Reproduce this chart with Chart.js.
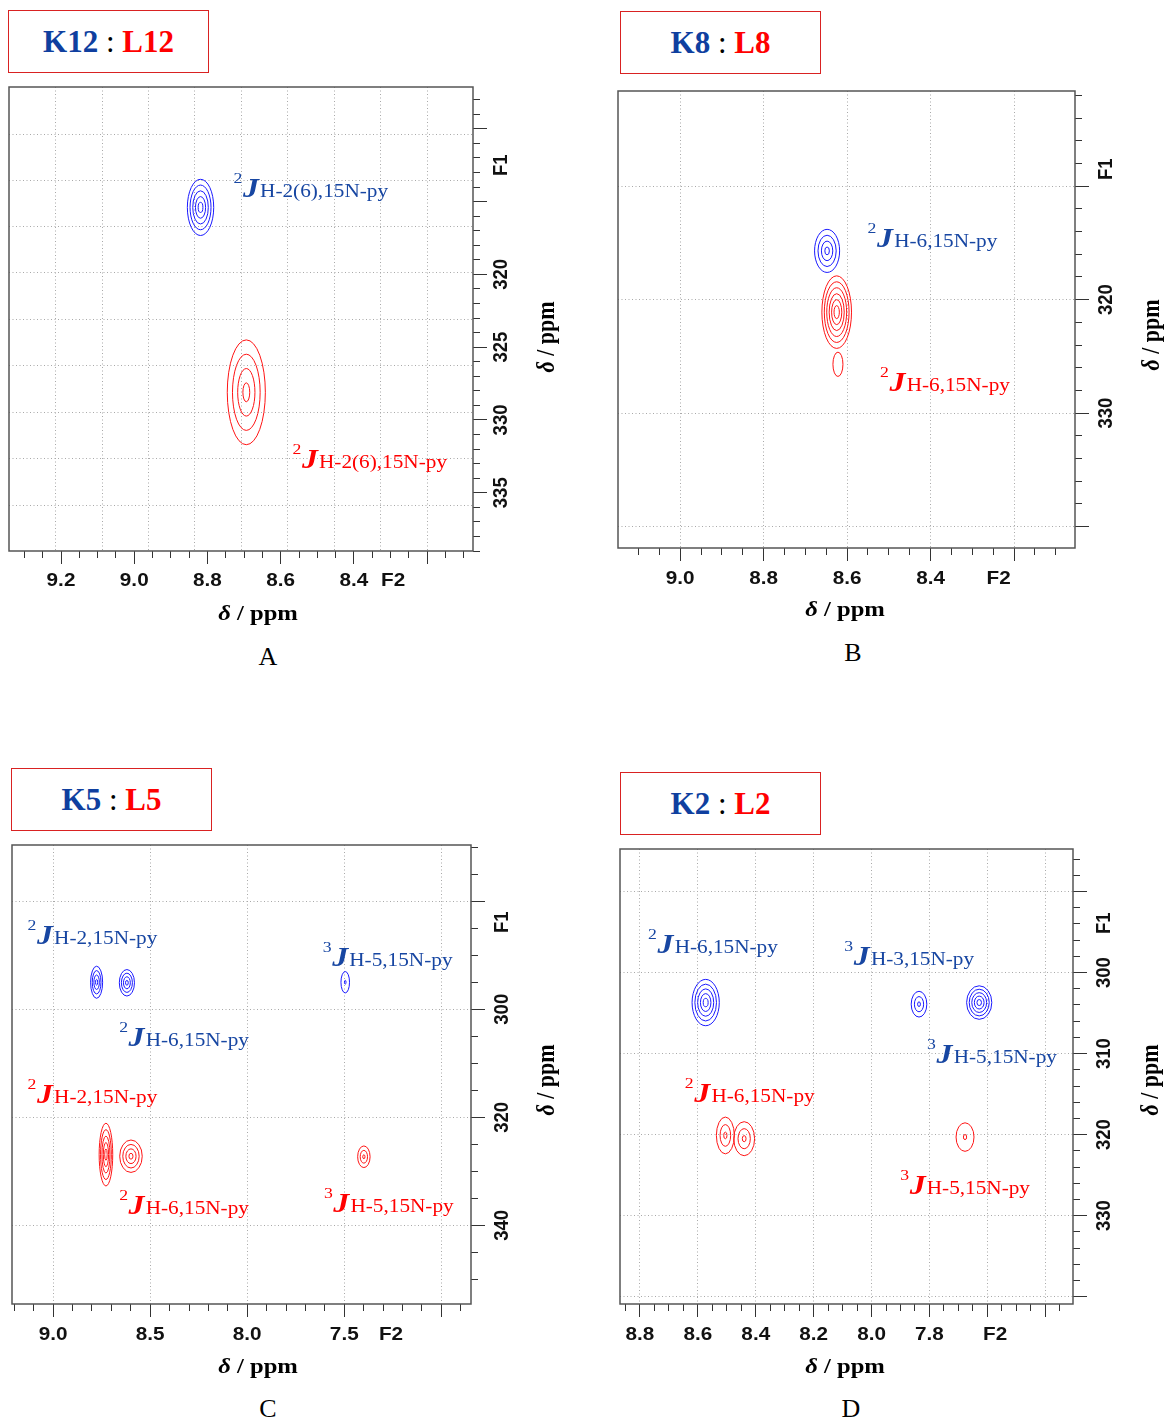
<!DOCTYPE html>
<html>
<head>
<meta charset="utf-8">
<title>1H-15N HMBC: K / L complexes</title>
<script src="https://cdn.jsdelivr.net/npm/chart.js@4.4.1/dist/chart.umd.min.js"></script>
<style>
  html, body { margin: 0; padding: 0; background: #fff; }
  body { position: relative; width: 1168px; height: 1425px; overflow: hidden; }
  canvas { position: absolute; }
  .tag { position: absolute; box-sizing: border-box; width: 201px; height: 63px;
         border: 1.5px solid #d92222; display: flex; align-items: center; justify-content: center;
         font: bold 31px "Liberation Serif", serif; color: #000; white-space: pre; }
  .tag .k { color: #0f3f9f; }
  .tag .l { color: #ff0000; }
  .tag .c { font-weight: normal; }
  .letter { position: absolute; width: 60px; margin-left: -30px; text-align: center;
            font: 26px/30px "Liberation Serif", serif; color: #000; }
</style>
</head>
<body>
<div class="tag" style="left:8px;top:10px"><span><span class="k">K12</span><span class="c"> : </span><span class="l">L12</span></span></div>
<div class="tag" style="left:620px;top:11px"><span><span class="k">K8</span><span class="c"> : </span><span class="l">L8</span></span></div>
<div class="tag" style="left:11px;top:768px"><span><span class="k">K5</span><span class="c"> : </span><span class="l">L5</span></span></div>
<div class="tag" style="left:620px;top:772px"><span><span class="k">K2</span><span class="c"> : </span><span class="l">L2</span></span></div>
<div class="letter" style="left:268px;top:642px">A</div>
<div class="letter" style="left:853px;top:638px">B</div>
<div class="letter" style="left:268px;top:1394px">C</div>
<div class="letter" style="left:851px;top:1394px">D</div>

<script>
// cross peaks: H = 1H shift (F2), N = 15N shift (F1), WH/WN = half width of the
// outer contour (ppm), Lv = number of contour levels

// ---- A : K12 / L12 ----
const aBlueH = [8.819], aBlueN = [315.4], aBlueWH = [0.036], aBlueWN = [1.93], aBlueLv = [5];
const aRedH = [8.694], aRedN = [328.1], aRedWH = [0.052], aRedWN = [3.6], aRedLv = [4];
const aTicksH = [9.2, 9.0, 8.8, 8.6, 8.4, 8.2];
const aLabelsH = ['9.2', '9.0', '8.8', '8.6', '8.4', ''];
const aTicksN = [310, 315, 320, 325, 330, 335];
const aLabelsN = ['', '', '320', '325', '330', '335'];
const aGridH = [9.2147, 9.0879, 8.9612, 8.8345, 8.7076, 8.5808, 8.4538, 8.3268, 8.2];
const aGridN = [310.37, 313.56, 316.73, 319.9, 323.09, 326.28, 329.48, 332.67, 335.86];
const aNotes = [
  { h: 8.729, n: 314.68, sup: '2', sub: 'H-2(6),15N-py', set: 'K' },
  { h: 8.568, n: 333.29, sup: '2', sub: 'H-2(6),15N-py', set: 'L' }
];

// ---- B : K8 / L8 ----
const bBlueH = [8.648], bBlueN = [315.7], bBlueWH = [0.030], bBlueWN = [1.9], bBlueLv = [4];
const bRedH = [8.625, 8.622], bRedN = [321.1, 325.7], bRedWH = [0.0355, 0.012], bRedWN = [3.2, 1.07], bRedLv = [6, 1];
const bTicksH = [9.0, 8.8, 8.6, 8.4, 8.2];
const bLabelsH = ['9.0', '8.8', '8.6', '8.4', ''];
const bTicksN = [310, 320, 330, 340];
const bLabelsN = ['', '320', '330', ''];
const bGridH = [9.0, 8.8, 8.6, 8.4, 8.2];
const bGridN = [310, 320, 330, 340];
const bNotes = [
  { h: 8.551, n: 315.4, sup: '2', sub: 'H-6,15N-py', set: 'K' },
  { h: 8.521, n: 328.04, sup: '2', sub: 'H-6,15N-py', set: 'L' }
];

// ---- C : K5 / L5 ----
const cBlueH = [8.776, 8.620, 7.495], cBlueN = [295.0, 295.1, 295.0];
const cBlueWH = [0.031, 0.039, 0.022], cBlueWN = [2.97, 2.45, 1.98], cBlueLv = [4, 4, 2];
const cRedH = [8.728, 8.599, 7.399], cRedN = [326.9, 327.2, 327.3];
const cRedWH = [0.035, 0.058, 0.032], cRedWN = [5.8, 3.0, 2.0], cRedLv = [5, 4, 3];
const cTicksH = [9.0, 8.5, 8.0, 7.5, 7.0];
const cLabelsH = ['9.0', '8.5', '8.0', '7.5', ''];
const cTicksN = [280, 300, 320, 340];
const cLabelsN = ['', '300', '320', '340'];
const cGridH = [9.0, 8.5, 8.0, 7.5, 7.0];
const cGridN = [280, 300, 320, 340];
const cNotes = [
  { h: 9.132, n: 287.87, sup: '2', sub: 'H-2,15N-py', set: 'K' },
  { h: 8.660, n: 306.74, sup: '2', sub: 'H-6,15N-py', set: 'K' },
  { h: 7.611, n: 292.0, sup: '3', sub: 'H-5,15N-py', set: 'K' },
  { h: 9.132, n: 317.4, sup: '2', sub: 'H-2,15N-py', set: 'L' },
  { h: 8.660, n: 337.85, sup: '2', sub: 'H-6,15N-py', set: 'L' },
  { h: 7.605, n: 337.5, sup: '3', sub: 'H-5,15N-py', set: 'L' }
];

// ---- D : K2 / L2 ----
const dBlueH = [8.573, 7.836, 7.628], dBlueN = [303.7, 303.9, 303.7];
const dBlueWH = [0.047, 0.027, 0.0435], dBlueWN = [2.86, 1.59, 2.07], dBlueLv = [5, 3, 5];
const dRedH = [8.505, 8.440, 7.677], dRedN = [320.1, 320.5, 320.3];
const dRedWH = [0.031, 0.036, 0.031], dRedWN = [2.27, 2.1, 1.76], dRedLv = [3, 3, 2];
const dTicksH = [8.8, 8.6, 8.4, 8.2, 8.0, 7.8, 7.6, 7.4];
const dLabelsH = ['8.8', '8.6', '8.4', '8.2', '8.0', '7.8', '', ''];
const dTicksN = [290, 300, 310, 320, 330, 340];
const dLabelsN = ['', '300', '310', '320', '330', ''];
const dGridH = [8.8, 8.6, 8.4, 8.2, 8.0, 7.8, 7.6, 7.4];
const dGridN = [290, 300, 310, 320, 330, 340];
const dNotes = [
  { h: 8.772, n: 297.6, sup: '2', sub: 'H-6,15N-py', set: 'K' },
  { h: 8.094, n: 299.1, sup: '3', sub: 'H-3,15N-py', set: 'K' },
  { h: 7.808, n: 311.1, sup: '3', sub: 'H-5,15N-py', set: 'K' },
  { h: 8.645, n: 316.0, sup: '2', sub: 'H-6,15N-py', set: 'L' },
  { h: 7.901, n: 327.3, sup: '3', sub: 'H-5,15N-py', set: 'L' }
];

const panels = [
  { canvas: [0, 78, 584, 570], area: [9, 87, 473, 551], h: [8.075, 9.342], n: [307.13, 339.0],
    minorH: 0.05, minorN: 1, ticksH: aTicksH, labelsH: aLabelsH, ticksN: aTicksN, labelsN: aLabelsN,
    gridH: aGridH, gridN: aGridN, f2: 8.293, f1: 312.5, labX: 30, labY: 28,
    titleX: [258, 614], titleY: [548, 337], notes: aNotes,
    blue: [aBlueH, aBlueN, aBlueWH, aBlueWN, aBlueLv], red: [aRedH, aRedN, aRedWH, aRedWN, aRedLv] },
  { canvas: [590, 78, 578, 570], area: [618, 91, 1075, 548], h: [8.054, 9.149], n: [301.6, 341.9],
    minorH: 0.05, minorN: 2, ticksH: bTicksH, labelsH: bLabelsH, ticksN: bTicksN, labelsN: bLabelsN,
    gridH: bGridH, gridN: bGridN, f2: 8.237, f1: 308.5, labX: 31, labY: 31,
    titleX: [845, 610], titleY: [1153, 335], notes: bNotes,
    blue: [bBlueH, bBlueN, bBlueWH, bBlueWN, bBlueLv], red: [bRedH, bRedN, bRedWH, bRedWN, bRedLv] },
  { canvas: [0, 834, 584, 560], area: [12, 845, 471, 1304], h: [6.847, 9.212], n: [269.6, 354.55],
    minorH: 0.1, minorN: 5, ticksH: cTicksH, labelsH: cLabelsH, ticksN: cTicksN, labelsN: cLabelsN,
    gridH: cGridH, gridN: cGridN, f2: 7.259, f1: 283.9, labX: 31, labY: 31,
    titleX: [258, 1367], titleY: [548, 1080], notes: cNotes,
    blue: [cBlueH, cBlueN, cBlueWH, cBlueWN, cBlueLv], red: [cRedH, cRedN, cRedWH, cRedWN, cRedLv] },
  { canvas: [590, 834, 578, 560], area: [620, 849, 1073, 1304], h: [7.304, 8.869], n: [284.75, 340.9],
    minorH: 0.05, minorN: 2, ticksH: dTicksH, labelsH: dLabelsH, ticksN: dTicksN, labelsN: dLabelsN,
    gridH: dGridH, gridN: dGridN, f2: 7.573, f1: 293.9, labX: 31, labY: 31,
    titleX: [845, 1367], titleY: [1152, 1080], notes: dNotes,
    blue: [dBlueH, dBlueN, dBlueWH, dBlueWN, dBlueLv], red: [dRedH, dRedN, dRedWH, dRedWN, dRedLv] }
];

const BLUE = '#1a1aff', RED = '#ff1414';
const NOTE_COLOR = { K: '#1746a2', L: '#ff0000' };
const TICK_FONT = 'bold 18.5px "Liberation Sans", Arial, sans-serif';
const SERIF = '"Liberation Serif", "Times New Roman", serif';
const STRETCH = 1.12;   // the plots in the source are a little wider than tall
const AX = 40;          // room kept for the tick marks

function steps(range, st) {
  const out = [];
  for (let k = Math.ceil(range[0] / st - 1e-9); k * st <= range[1] + 1e-9; k++) out.push(+(k * st).toFixed(4));
  return out;
}

function fix(s, size) {
  if (s.isHorizontal()) s.height = size; else s.width = size;
  s.paddingLeft = s.paddingRight = s.paddingTop = s.paddingBottom = 0;
}

function tickAxis(pos, range, values, labels, len, size, weight) {
  return {
    type: 'linear', axis: pos === 'bottom' ? 'x' : 'y', position: pos, reverse: true,
    min: range[0], max: range[1], weight: weight,
    afterBuildTicks: s => { s.ticks = values.map(v => ({ value: v })); },
    ticks: { display: false, callback: (v, i) => (labels ? labels[i] : '') },
    grid: { drawOnChartArea: false, drawTicks: true, tickLength: len, tickColor: '#333', tickWidth: 1 },
    border: { display: false },
    afterFit: s => fix(s, size)
  };
}

function gridAxis(pos, range, values) {
  return {
    type: 'linear', axis: pos === 'bottom' ? 'x' : 'y', position: pos, reverse: true,
    min: range[0], max: range[1], weight: 0,
    afterBuildTicks: s => { s.ticks = values.map(v => ({ value: v })); },
    ticks: { display: false },
    grid: { drawOnChartArea: true, drawTicks: false, color: '#a9a9a9', lineWidth: 1 },
    border: { display: false, dash: [1, 2.5] },
    afterFit: s => fix(s, 0)
  };
}

function peakSet(arrs, color) {
  const [h, n, wh, wn, lv] = arrs;
  return { data: h.map((v, i) => ({ x: v, y: n[i] })), wh: wh, wn: wn, lv: lv,
           borderColor: color, backgroundColor: color, pointRadius: 0 };
}

function txt(ctx, s, x, y, font, color, rot) {
  ctx.save();
  ctx.translate(x, y);
  if (rot) { ctx.rotate(-Math.PI / 2); ctx.scale(1, STRETCH); } else ctx.scale(STRETCH, 1);
  ctx.font = font; ctx.fillStyle = color;
  ctx.textAlign = 'center'; ctx.textBaseline = 'middle';
  ctx.fillText(s, 0, 0);
  ctx.restore();
}

function axisTitle(ctx, x, y, rot) {
  const fi = 'italic bold 22px ' + SERIF, fb = 'bold 22px ' + SERIF;
  ctx.save();
  ctx.translate(x, y);
  if (rot) { ctx.rotate(-Math.PI / 2); ctx.scale(1, STRETCH); } else ctx.scale(STRETCH, 1);
  ctx.fillStyle = '#000'; ctx.textAlign = 'left'; ctx.textBaseline = 'middle';
  ctx.font = fi; const w1 = ctx.measureText('δ').width;
  ctx.font = fb; const w2 = ctx.measureText(' / ppm').width;
  const x0 = -(w1 + w2) / 2;
  ctx.font = fi; ctx.fillText('δ', x0, 0);
  ctx.font = fb; ctx.fillText(' / ppm', x0 + w1, 0);
  ctx.restore();
}

// nJ(H,N) label: superscript order, italic J, subscript nuclei
function note(ctx, x, y, sup, sub, color) {
  ctx.save();
  ctx.translate(x, y);
  ctx.scale(1.18, 1);
  ctx.fillStyle = color; ctx.textAlign = 'left'; ctx.textBaseline = 'alphabetic';
  ctx.font = '15px ' + SERIF; ctx.fillText(sup, 0, -14);
  let cx = ctx.measureText(sup).width + 0.5;
  ctx.font = 'italic bold 27px ' + SERIF; ctx.fillText('J', cx, 0);
  cx += ctx.measureText('J').width + 1;
  ctx.font = '18px ' + SERIF; ctx.fillText(sub, cx, 0);
  ctx.restore();
}

function nmrPlugin(p) {
  const ox = p.canvas[0], oy = p.canvas[1];
  return {
    id: 'nmr',
    afterDatasetsDraw(chart) {
      const ctx = chart.ctx, a = chart.chartArea, xs = chart.scales.x, ys = chart.scales.y;
      ctx.save();
      ctx.beginPath(); ctx.rect(a.left, a.top, a.right - a.left, a.bottom - a.top); ctx.clip();
      chart.data.datasets.forEach((ds, di) => {
        const meta = chart.getDatasetMeta(di);
        ctx.strokeStyle = ds.borderColor; ctx.lineWidth = 1;
        meta.data.forEach((pt, i) => {
          const v = ds.data[i];
          const rx = Math.abs(xs.getPixelForValue(v.x + ds.wh[i]) - pt.x);
          const ry = Math.abs(ys.getPixelForValue(v.y + ds.wn[i]) - pt.y);
          const n = ds.lv[i];
          for (let k = 0; k < n; k++) {
            const f = n === 1 ? 1 : 1 - k * 0.82 / (n - 1);
            ctx.beginPath();
            ctx.ellipse(pt.x, pt.y, Math.max(rx * f, 0.8), Math.max(ry * f, 1.2), 0, 0, Math.PI * 2);
            ctx.stroke();
          }
        });
      });
      ctx.restore();
    },
    afterDraw(chart) {
      const ctx = chart.ctx, a = chart.chartArea, xs = chart.scales.x, ys = chart.scales.y;
      ctx.save();
      ctx.strokeStyle = '#555'; ctx.lineWidth = 1.5;
      ctx.strokeRect(a.left, a.top, a.right - a.left, a.bottom - a.top);
      ctx.restore();
      xs.ticks.forEach(t => {
        if (t.label) txt(ctx, t.label, xs.getPixelForValue(t.value), a.bottom + p.labX, TICK_FONT, '#111', false);
      });
      txt(ctx, 'F2', xs.getPixelForValue(p.f2), a.bottom + p.labX, TICK_FONT, '#111', false);
      ys.ticks.forEach(t => {
        if (t.label) txt(ctx, t.label, a.right + p.labY, ys.getPixelForValue(t.value), TICK_FONT, '#111', true);
      });
      txt(ctx, 'F1', a.right + p.labY, ys.getPixelForValue(p.f1), TICK_FONT, '#111', true);
      axisTitle(ctx, p.titleX[0] - ox, p.titleX[1] - oy, false);
      axisTitle(ctx, p.titleY[0] - ox, p.titleY[1] - oy, true);
      p.notes.forEach(nt => {
        note(ctx, xs.getPixelForValue(nt.h), ys.getPixelForValue(nt.n), nt.sup, nt.sub, NOTE_COLOR[nt.set]);
      });
    }
  };
}

document.addEventListener('DOMContentLoaded', function () {
  panels.forEach(function (p) {
    const [cx, cy, cw, ch] = p.canvas;
    const [l, t, r, b] = p.area;
    const cv = document.createElement('canvas');
    cv.width = cw; cv.height = ch;
    cv.style.left = cx + 'px'; cv.style.top = cy + 'px';
    document.body.appendChild(cv);
    new Chart(cv.getContext('2d'), {
      type: 'scatter',
      data: { datasets: [peakSet(p.blue, BLUE), peakSet(p.red, RED)] },
      options: {
        responsive: false, animation: false, devicePixelRatio: 1, events: [],
        layout: { padding: { left: l - cx, top: t - cy, right: cx + cw - r - AX, bottom: cy + ch - b - AX } },
        plugins: { legend: { display: false }, tooltip: { enabled: false } },
        scales: {
          x: tickAxis('bottom', p.h, p.ticksH, p.labelsH, 13, AX, 2),
          xm: tickAxis('bottom', p.h, steps(p.h, p.minorH), null, 7, 0, 1),
          xg: gridAxis('bottom', p.h, p.gridH),
          y: tickAxis('right', p.n, p.ticksN, p.labelsN, 14, AX, 2),
          ym: tickAxis('right', p.n, steps(p.n, p.minorN), null, 7, 0, 1),
          yg: gridAxis('right', p.n, p.gridN)
        }
      },
      plugins: [nmrPlugin(p)]
    });
  });
});
</script>
</body>
</html>
